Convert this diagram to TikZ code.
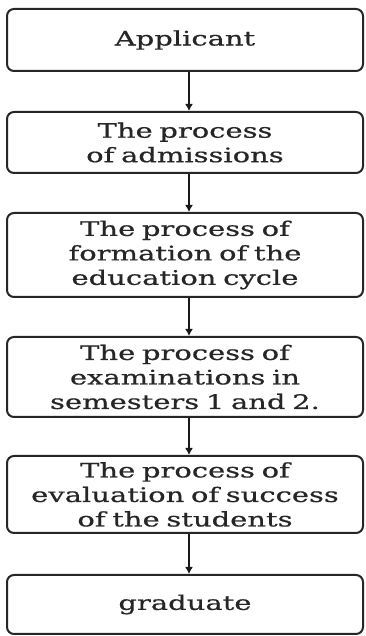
\documentclass[tikz,border=0pt]{standalone}
\usepackage{fontspec}
\setmainfont{DejaVu Serif}[FakeStretch=1.45,FakeBold=0.6]
\usetikzlibrary{arrows.meta}
\begin{document}
\begin{tikzpicture}[x=1pt,y=1pt,
  box/.style={draw=black!85, line width=2pt, rounded corners=7pt,
    minimum width=356pt, text width=345pt, align=center, inner sep=0pt,
    text=black!85, font=\fontsize{20}{24.5}\selectfont},
  arr/.style={draw=black!90, line width=2.2pt, -{Latex[length=7pt,width=8pt]}}]
\useasboundingbox (0,0) rectangle (366,636);
\node[box, minimum height=62pt] (b1) at (185,596) {Applicant};
\node[box, minimum height=61pt] (b2) at (185,493.5) {The process\\of admissions};
\node[box, minimum height=84pt] (b3) at (185,381) {The process of\\formation of the\\education cycle};
\node[box, minimum height=80pt] (b4) at (185,259) {The process of\\examinations in\\semesters 1 and 2.};
\node[box, minimum height=77pt] (b5) at (185,141.5) {The process of\\evaluation of success\\of the students};
\node[box, minimum height=59pt] (b6) at (185,31.5) {graduate};
\foreach \a/\b in {b1/b2,b2/b3,b3/b4,b4/b5,b5/b6}
  \draw[arr] ([xshift=4pt]\a.south) -- ([xshift=4pt]\b.north);
\end{tikzpicture}
\end{document}
